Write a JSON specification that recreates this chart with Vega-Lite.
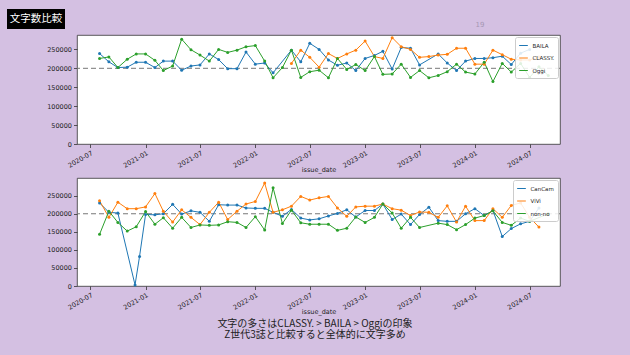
{
  "$schema": "https://vega.github.io/schema/vega-lite/v6.json",
  "background": "#d4c0e2",
  "padding": {"left": 7, "top": 9, "right": 10, "bottom": 25},
  "spacing": 3,
  "resolve": {"scale": {"color": "independent"}, "legend": {"color": "independent"}},
  "config": {
    "font": "DejaVu Sans",
    "view": {"stroke": "#333", "strokeWidth": 0.8, "fill": "white"},
    "axis": {"labelFont": "DejaVu Sans", "labelFontSize": 6.5, "labelColor": "#222", "titleFont": "DejaVu Sans", "titleFontSize": 6.5, "titleFontWeight": "normal", "titleColor": "#222", "tickSize": 3.5, "tickColor": "#333", "tickWidth": 0.8, "domain": false, "grid": false},
    "axisX": {"labelAngle": -30, "labelAlign": "right", "labelBaseline": "top", "labelPadding": 2, "titlePadding": -2, "labelOverlap": false, "labelFlush": false},
    "axisY": {"labelPadding": 2, "minExtent": 31, "maxExtent": 31},
    "legend": {"labelFont": "DejaVu Sans", "labelFontSize": 5.5, "labelColor": "#222", "fillColor": "rgba(255,255,255,0.85)", "strokeColor": "#ccc", "cornerRadius": 2, "padding": 3.5, "rowPadding": 3.5, "symbolType": "stroke", "symbolSize": 75, "symbolStrokeWidth": 1, "labelOffset": 4, "offset": 2}
  },
  "datasets": {
    "top": [
      {"magazine":"BAILA","issue_date":"2020-08-01","chars":239000},
      {"magazine":"BAILA","issue_date":"2020-09-01","chars":217000},
      {"magazine":"BAILA","issue_date":"2020-10-01","chars":202000},
      {"magazine":"BAILA","issue_date":"2020-11-01","chars":203000},
      {"magazine":"BAILA","issue_date":"2020-12-01","chars":216000},
      {"magazine":"BAILA","issue_date":"2021-01-01","chars":216000},
      {"magazine":"BAILA","issue_date":"2021-02-01","chars":202000},
      {"magazine":"BAILA","issue_date":"2021-03-01","chars":219000},
      {"magazine":"BAILA","issue_date":"2021-04-01","chars":219000},
      {"magazine":"BAILA","issue_date":"2021-05-01","chars":195000},
      {"magazine":"BAILA","issue_date":"2021-06-01","chars":206000},
      {"magazine":"BAILA","issue_date":"2021-07-01","chars":209000},
      {"magazine":"BAILA","issue_date":"2021-08-01","chars":238000},
      {"magazine":"BAILA","issue_date":"2021-09-01","chars":223000},
      {"magazine":"BAILA","issue_date":"2021-10-01","chars":199000},
      {"magazine":"BAILA","issue_date":"2021-11-01","chars":199000},
      {"magazine":"BAILA","issue_date":"2021-12-01","chars":243000},
      {"magazine":"BAILA","issue_date":"2022-01-01","chars":211000},
      {"magazine":"BAILA","issue_date":"2022-02-01","chars":214000},
      {"magazine":"BAILA","issue_date":"2022-03-01","chars":188000},
      {"magazine":"BAILA","issue_date":"2022-05-01","chars":248000},
      {"magazine":"BAILA","issue_date":"2022-06-01","chars":217000},
      {"magazine":"BAILA","issue_date":"2022-07-01","chars":266000},
      {"magazine":"BAILA","issue_date":"2022-08-01","chars":250000},
      {"magazine":"BAILA","issue_date":"2022-09-01","chars":222000},
      {"magazine":"BAILA","issue_date":"2022-10-01","chars":208000},
      {"magazine":"BAILA","issue_date":"2022-11-01","chars":214000},
      {"magazine":"BAILA","issue_date":"2022-12-01","chars":194000},
      {"magazine":"BAILA","issue_date":"2023-01-01","chars":226000},
      {"magazine":"BAILA","issue_date":"2023-02-01","chars":234000},
      {"magazine":"BAILA","issue_date":"2023-03-01","chars":245000},
      {"magazine":"BAILA","issue_date":"2023-04-01","chars":198000},
      {"magazine":"BAILA","issue_date":"2023-05-01","chars":255000},
      {"magazine":"BAILA","issue_date":"2023-06-01","chars":253000},
      {"magazine":"BAILA","issue_date":"2023-07-01","chars":209000},
      {"magazine":"BAILA","issue_date":"2023-09-01","chars":238000},
      {"magazine":"BAILA","issue_date":"2023-10-01","chars":214000},
      {"magazine":"BAILA","issue_date":"2023-11-01","chars":194000},
      {"magazine":"BAILA","issue_date":"2023-12-01","chars":219000},
      {"magazine":"BAILA","issue_date":"2024-01-01","chars":226000},
      {"magazine":"BAILA","issue_date":"2024-02-01","chars":226000},
      {"magazine":"BAILA","issue_date":"2024-03-01","chars":228000},
      {"magazine":"BAILA","issue_date":"2024-04-01","chars":232000},
      {"magazine":"BAILA","issue_date":"2024-05-01","chars":210000},
      {"magazine":"BAILA","issue_date":"2024-06-01","chars":240000},
      {"magazine":"BAILA","issue_date":"2024-07-01","chars":250000},
      {"magazine":"CLASSY.","issue_date":"2022-05-01","chars":213000},
      {"magazine":"CLASSY.","issue_date":"2022-06-01","chars":248000},
      {"magazine":"CLASSY.","issue_date":"2022-07-01","chars":229000},
      {"magazine":"CLASSY.","issue_date":"2022-08-01","chars":203000},
      {"magazine":"CLASSY.","issue_date":"2022-09-01","chars":239000},
      {"magazine":"CLASSY.","issue_date":"2022-10-01","chars":226000},
      {"magazine":"CLASSY.","issue_date":"2022-11-01","chars":238000},
      {"magazine":"CLASSY.","issue_date":"2022-12-01","chars":248000},
      {"magazine":"CLASSY.","issue_date":"2023-01-01","chars":272000},
      {"magazine":"CLASSY.","issue_date":"2023-02-01","chars":231000},
      {"magazine":"CLASSY.","issue_date":"2023-03-01","chars":226000},
      {"magazine":"CLASSY.","issue_date":"2023-04-01","chars":281000},
      {"magazine":"CLASSY.","issue_date":"2023-05-01","chars":257000},
      {"magazine":"CLASSY.","issue_date":"2023-06-01","chars":250000},
      {"magazine":"CLASSY.","issue_date":"2023-07-01","chars":229000},
      {"magazine":"CLASSY.","issue_date":"2023-08-01","chars":231000},
      {"magazine":"CLASSY.","issue_date":"2023-09-01","chars":235000},
      {"magazine":"CLASSY.","issue_date":"2023-10-01","chars":237000},
      {"magazine":"CLASSY.","issue_date":"2023-11-01","chars":253000},
      {"magazine":"CLASSY.","issue_date":"2023-12-01","chars":253000},
      {"magazine":"CLASSY.","issue_date":"2024-01-01","chars":211000},
      {"magazine":"CLASSY.","issue_date":"2024-02-01","chars":211000},
      {"magazine":"CLASSY.","issue_date":"2024-03-01","chars":248000},
      {"magazine":"CLASSY.","issue_date":"2024-04-01","chars":236000},
      {"magazine":"CLASSY.","issue_date":"2024-05-01","chars":224000},
      {"magazine":"CLASSY.","issue_date":"2024-06-01","chars":222000},
      {"magazine":"CLASSY.","issue_date":"2024-07-01","chars":222000},
      {"magazine":"CLASSY.","issue_date":"2024-08-01","chars":230000},
      {"magazine":"Oggi","issue_date":"2020-08-01","chars":226000},
      {"magazine":"Oggi","issue_date":"2020-09-01","chars":230000},
      {"magazine":"Oggi","issue_date":"2020-10-01","chars":202000},
      {"magazine":"Oggi","issue_date":"2020-11-01","chars":224000},
      {"magazine":"Oggi","issue_date":"2020-12-01","chars":238000},
      {"magazine":"Oggi","issue_date":"2021-01-01","chars":238000},
      {"magazine":"Oggi","issue_date":"2021-02-01","chars":221000},
      {"magazine":"Oggi","issue_date":"2021-03-01","chars":194000},
      {"magazine":"Oggi","issue_date":"2021-04-01","chars":206000},
      {"magazine":"Oggi","issue_date":"2021-05-01","chars":277000},
      {"magazine":"Oggi","issue_date":"2021-06-01","chars":249000},
      {"magazine":"Oggi","issue_date":"2021-07-01","chars":235000},
      {"magazine":"Oggi","issue_date":"2021-08-01","chars":219000},
      {"magazine":"Oggi","issue_date":"2021-09-01","chars":250000},
      {"magazine":"Oggi","issue_date":"2021-10-01","chars":242000},
      {"magazine":"Oggi","issue_date":"2021-11-01","chars":248000},
      {"magazine":"Oggi","issue_date":"2021-12-01","chars":257000},
      {"magazine":"Oggi","issue_date":"2022-01-01","chars":260000},
      {"magazine":"Oggi","issue_date":"2022-02-01","chars":219000},
      {"magazine":"Oggi","issue_date":"2022-03-01","chars":175000},
      {"magazine":"Oggi","issue_date":"2022-04-01","chars":202000},
      {"magazine":"Oggi","issue_date":"2022-05-01","chars":248000},
      {"magazine":"Oggi","issue_date":"2022-06-01","chars":176000},
      {"magazine":"Oggi","issue_date":"2022-07-01","chars":191000},
      {"magazine":"Oggi","issue_date":"2022-08-01","chars":195000},
      {"magazine":"Oggi","issue_date":"2022-09-01","chars":175000},
      {"magazine":"Oggi","issue_date":"2022-10-01","chars":226000},
      {"magazine":"Oggi","issue_date":"2022-11-01","chars":197000},
      {"magazine":"Oggi","issue_date":"2022-12-01","chars":210000},
      {"magazine":"Oggi","issue_date":"2023-01-01","chars":194000},
      {"magazine":"Oggi","issue_date":"2023-02-01","chars":231000},
      {"magazine":"Oggi","issue_date":"2023-03-01","chars":184000},
      {"magazine":"Oggi","issue_date":"2023-04-01","chars":185000},
      {"magazine":"Oggi","issue_date":"2023-05-01","chars":211000},
      {"magazine":"Oggi","issue_date":"2023-06-01","chars":176000},
      {"magazine":"Oggi","issue_date":"2023-07-01","chars":194000},
      {"magazine":"Oggi","issue_date":"2023-08-01","chars":175000},
      {"magazine":"Oggi","issue_date":"2023-09-01","chars":181000},
      {"magazine":"Oggi","issue_date":"2023-10-01","chars":191000},
      {"magazine":"Oggi","issue_date":"2023-11-01","chars":211000},
      {"magazine":"Oggi","issue_date":"2023-12-01","chars":190000},
      {"magazine":"Oggi","issue_date":"2024-01-01","chars":185000},
      {"magazine":"Oggi","issue_date":"2024-02-01","chars":216000},
      {"magazine":"Oggi","issue_date":"2024-03-01","chars":165000},
      {"magazine":"Oggi","issue_date":"2024-04-01","chars":213000},
      {"magazine":"Oggi","issue_date":"2024-05-01","chars":190000},
      {"magazine":"Oggi","issue_date":"2024-06-01","chars":213000},
      {"magazine":"Oggi","issue_date":"2024-07-01","chars":176000},
      {"magazine":"Oggi","issue_date":"2024-08-01","chars":204000},
      {"magazine":"Oggi","issue_date":"2024-09-01","chars":181000}
    ],
    "bottom": [
      {"magazine":"CanCam","issue_date":"2020-08-01","chars":230000},
      {"magazine":"CanCam","issue_date":"2020-09-01","chars":204000},
      {"magazine":"CanCam","issue_date":"2020-10-01","chars":202000},
      {"magazine":"CanCam","issue_date":"2020-11-27","chars":3000},
      {"magazine":"CanCam","issue_date":"2020-12-12","chars":82000},
      {"magazine":"CanCam","issue_date":"2021-01-01","chars":198000},
      {"magazine":"CanCam","issue_date":"2021-02-01","chars":197000},
      {"magazine":"CanCam","issue_date":"2021-03-01","chars":200000},
      {"magazine":"CanCam","issue_date":"2021-04-01","chars":226000},
      {"magazine":"CanCam","issue_date":"2021-05-01","chars":199000},
      {"magazine":"CanCam","issue_date":"2021-06-01","chars":208000},
      {"magazine":"CanCam","issue_date":"2021-07-01","chars":204000},
      {"magazine":"CanCam","issue_date":"2021-08-01","chars":179000},
      {"magazine":"CanCam","issue_date":"2021-09-01","chars":225000},
      {"magazine":"CanCam","issue_date":"2021-10-01","chars":224000},
      {"magazine":"CanCam","issue_date":"2021-11-01","chars":224000},
      {"magazine":"CanCam","issue_date":"2021-12-01","chars":216000},
      {"magazine":"CanCam","issue_date":"2022-01-01","chars":215000},
      {"magazine":"CanCam","issue_date":"2022-02-01","chars":215000},
      {"magazine":"CanCam","issue_date":"2022-03-01","chars":204000},
      {"magazine":"CanCam","issue_date":"2022-04-01","chars":193000},
      {"magazine":"CanCam","issue_date":"2022-05-01","chars":212000},
      {"magazine":"CanCam","issue_date":"2022-06-01","chars":188000},
      {"magazine":"CanCam","issue_date":"2022-07-01","chars":183000},
      {"magazine":"CanCam","issue_date":"2022-08-01","chars":186000},
      {"magazine":"CanCam","issue_date":"2022-09-01","chars":194000},
      {"magazine":"CanCam","issue_date":"2022-10-01","chars":201000},
      {"magazine":"CanCam","issue_date":"2022-11-01","chars":211000},
      {"magazine":"CanCam","issue_date":"2022-12-01","chars":191000},
      {"magazine":"CanCam","issue_date":"2023-01-01","chars":209000},
      {"magazine":"CanCam","issue_date":"2023-02-01","chars":209000},
      {"magazine":"CanCam","issue_date":"2023-03-01","chars":227000},
      {"magazine":"CanCam","issue_date":"2023-04-01","chars":184000},
      {"magazine":"CanCam","issue_date":"2023-05-01","chars":199000},
      {"magazine":"CanCam","issue_date":"2023-06-01","chars":170000},
      {"magazine":"CanCam","issue_date":"2023-07-01","chars":198000},
      {"magazine":"CanCam","issue_date":"2023-08-01","chars":218000},
      {"magazine":"CanCam","issue_date":"2023-09-01","chars":181000},
      {"magazine":"CanCam","issue_date":"2023-10-01","chars":179000},
      {"magazine":"CanCam","issue_date":"2023-11-01","chars":179000},
      {"magazine":"CanCam","issue_date":"2023-12-01","chars":200000},
      {"magazine":"CanCam","issue_date":"2024-01-01","chars":214000},
      {"magazine":"CanCam","issue_date":"2024-02-01","chars":195000},
      {"magazine":"CanCam","issue_date":"2024-03-01","chars":209000},
      {"magazine":"CanCam","issue_date":"2024-04-01","chars":137000},
      {"magazine":"CanCam","issue_date":"2024-05-01","chars":159000},
      {"magazine":"CanCam","issue_date":"2024-06-01","chars":172000},
      {"magazine":"CanCam","issue_date":"2024-07-01","chars":179000},
      {"magazine":"CanCam","issue_date":"2024-08-01","chars":216000},
      {"magazine":"ViVi","issue_date":"2020-08-01","chars":236000},
      {"magazine":"ViVi","issue_date":"2020-09-01","chars":190000},
      {"magazine":"ViVi","issue_date":"2020-10-01","chars":232000},
      {"magazine":"ViVi","issue_date":"2020-11-01","chars":214000},
      {"magazine":"ViVi","issue_date":"2020-12-01","chars":214000},
      {"magazine":"ViVi","issue_date":"2021-01-01","chars":219000},
      {"magazine":"ViVi","issue_date":"2021-02-01","chars":256000},
      {"magazine":"ViVi","issue_date":"2021-03-01","chars":207000},
      {"magazine":"ViVi","issue_date":"2021-04-01","chars":177000},
      {"magazine":"ViVi","issue_date":"2021-05-01","chars":211000},
      {"magazine":"ViVi","issue_date":"2021-06-01","chars":190000},
      {"magazine":"ViVi","issue_date":"2021-07-01","chars":170000},
      {"magazine":"ViVi","issue_date":"2021-08-01","chars":204000},
      {"magazine":"ViVi","issue_date":"2021-09-01","chars":232000},
      {"magazine":"ViVi","issue_date":"2021-10-01","chars":184000},
      {"magazine":"ViVi","issue_date":"2021-11-01","chars":207000},
      {"magazine":"ViVi","issue_date":"2021-12-01","chars":227000},
      {"magazine":"ViVi","issue_date":"2022-01-01","chars":234000},
      {"magazine":"ViVi","issue_date":"2022-02-01","chars":285000},
      {"magazine":"ViVi","issue_date":"2022-03-01","chars":204000},
      {"magazine":"ViVi","issue_date":"2022-04-01","chars":211000},
      {"magazine":"ViVi","issue_date":"2022-05-01","chars":221000},
      {"magazine":"ViVi","issue_date":"2022-06-01","chars":248000},
      {"magazine":"ViVi","issue_date":"2022-07-01","chars":238000},
      {"magazine":"ViVi","issue_date":"2022-08-01","chars":244000},
      {"magazine":"ViVi","issue_date":"2022-09-01","chars":248000},
      {"magazine":"ViVi","issue_date":"2022-10-01","chars":216000},
      {"magazine":"ViVi","issue_date":"2022-11-01","chars":193000},
      {"magazine":"ViVi","issue_date":"2022-12-01","chars":219000},
      {"magazine":"ViVi","issue_date":"2023-01-01","chars":221000},
      {"magazine":"ViVi","issue_date":"2023-02-01","chars":221000},
      {"magazine":"ViVi","issue_date":"2023-03-01","chars":227000},
      {"magazine":"ViVi","issue_date":"2023-04-01","chars":214000},
      {"magazine":"ViVi","issue_date":"2023-05-01","chars":210000},
      {"magazine":"ViVi","issue_date":"2023-06-01","chars":195000},
      {"magazine":"ViVi","issue_date":"2023-07-01","chars":205000},
      {"magazine":"ViVi","issue_date":"2023-08-01","chars":204000},
      {"magazine":"ViVi","issue_date":"2023-09-01","chars":190000},
      {"magazine":"ViVi","issue_date":"2023-10-01","chars":222000},
      {"magazine":"ViVi","issue_date":"2023-11-01","chars":177000},
      {"magazine":"ViVi","issue_date":"2023-12-01","chars":221000},
      {"magazine":"ViVi","issue_date":"2024-01-01","chars":181000},
      {"magazine":"ViVi","issue_date":"2024-02-01","chars":181000},
      {"magazine":"ViVi","issue_date":"2024-03-01","chars":214000},
      {"magazine":"ViVi","issue_date":"2024-04-01","chars":190000},
      {"magazine":"ViVi","issue_date":"2024-05-01","chars":223000},
      {"magazine":"ViVi","issue_date":"2024-06-01","chars":230000},
      {"magazine":"ViVi","issue_date":"2024-07-01","chars":190000},
      {"magazine":"ViVi","issue_date":"2024-08-01","chars":163000},
      {"magazine":"non-no","issue_date":"2020-08-01","chars":143000},
      {"magazine":"non-no","issue_date":"2020-09-01","chars":207000},
      {"magazine":"non-no","issue_date":"2020-10-01","chars":176000},
      {"magazine":"non-no","issue_date":"2020-11-01","chars":152000},
      {"magazine":"non-no","issue_date":"2020-12-01","chars":164000},
      {"magazine":"non-no","issue_date":"2021-01-01","chars":206000},
      {"magazine":"non-no","issue_date":"2021-02-01","chars":171000},
      {"magazine":"non-no","issue_date":"2021-03-01","chars":189000},
      {"magazine":"non-no","issue_date":"2021-04-01","chars":160000},
      {"magazine":"non-no","issue_date":"2021-05-01","chars":190000},
      {"magazine":"non-no","issue_date":"2021-06-01","chars":162000},
      {"magazine":"non-no","issue_date":"2021-07-01","chars":169000},
      {"magazine":"non-no","issue_date":"2021-08-01","chars":168000},
      {"magazine":"non-no","issue_date":"2021-09-01","chars":169000},
      {"magazine":"non-no","issue_date":"2021-10-01","chars":178000},
      {"magazine":"non-no","issue_date":"2021-11-01","chars":176000},
      {"magazine":"non-no","issue_date":"2021-12-01","chars":162000},
      {"magazine":"non-no","issue_date":"2022-01-01","chars":192000},
      {"magazine":"non-no","issue_date":"2022-02-01","chars":155000},
      {"magazine":"non-no","issue_date":"2022-03-01","chars":272000},
      {"magazine":"non-no","issue_date":"2022-04-01","chars":173000},
      {"magazine":"non-no","issue_date":"2022-05-01","chars":210000},
      {"magazine":"non-no","issue_date":"2022-06-01","chars":175000},
      {"magazine":"non-no","issue_date":"2022-07-01","chars":171000},
      {"magazine":"non-no","issue_date":"2022-08-01","chars":171000},
      {"magazine":"non-no","issue_date":"2022-09-01","chars":171000},
      {"magazine":"non-no","issue_date":"2022-10-01","chars":154000},
      {"magazine":"non-no","issue_date":"2022-11-01","chars":160000},
      {"magazine":"non-no","issue_date":"2022-12-01","chars":191000},
      {"magazine":"non-no","issue_date":"2023-01-01","chars":176000},
      {"magazine":"non-no","issue_date":"2023-02-01","chars":190000},
      {"magazine":"non-no","issue_date":"2023-03-01","chars":227000},
      {"magazine":"non-no","issue_date":"2023-04-01","chars":202000},
      {"magazine":"non-no","issue_date":"2023-05-01","chars":160000},
      {"magazine":"non-no","issue_date":"2023-06-01","chars":190000},
      {"magazine":"non-no","issue_date":"2023-07-01","chars":162000},
      {"magazine":"non-no","issue_date":"2023-09-01","chars":174000},
      {"magazine":"non-no","issue_date":"2023-10-01","chars":170000},
      {"magazine":"non-no","issue_date":"2023-11-01","chars":156000},
      {"magazine":"non-no","issue_date":"2023-12-01","chars":170000},
      {"magazine":"non-no","issue_date":"2024-01-01","chars":188000},
      {"magazine":"non-no","issue_date":"2024-02-01","chars":195000},
      {"magazine":"non-no","issue_date":"2024-03-01","chars":208000},
      {"magazine":"non-no","issue_date":"2024-04-01","chars":176000},
      {"magazine":"non-no","issue_date":"2024-05-01","chars":168000},
      {"magazine":"non-no","issue_date":"2024-06-01","chars":188000},
      {"magazine":"non-no","issue_date":"2024-07-01","chars":179000},
      {"magazine":"non-no","issue_date":"2024-09-01","chars":200000}
    ]
  },
  "vconcat": [
    {
      "hconcat": [
        {
          "width": 58, "height": 20,
          "view": {"fill": "black", "stroke": null},
          "data": {"values": [{"t": "文字数比較"}]},
          "mark": {"type": "text", "color": "white", "font": "Noto Sans CJK JP", "fontSize": 10.5},
          "encoding": {"text": {"field": "t"}}
        },
        {
          "width": 20, "height": 22,
          "view": {"fill": null, "stroke": null},
          "data": {"values": [{"t": "19"}]},
          "mark": {"type": "text", "color": "#a596b3", "fontSize": 7, "dy": 5},
          "encoding": {"text": {"field": "t"}}
        }
      ],
      "spacing": 405
    },
    {
      "resolve": {"scale": {"color": "independent"}, "legend": {"color": "independent"}},
      "hconcat": [
        {
          "width": 1, "height": 20,
          "view": {"fill": null, "stroke": null},
          "data": {"values": [{"t": ""}]},
          "mark": "text",
          "encoding": {"text": {"field": "t"}}
        },
        {
          "width": 483, "height": 109,
          "layer": [
            {
              "data": {"values": [{"ref": 200000}]},
              "mark": {"type": "rule", "color": "#777", "strokeDash": [5, 3], "strokeWidth": 1},
              "encoding": {
                "y": {"field": "ref", "type": "quantitative", "scale": {"domain": [0, 288000], "nice": false, "zero": false}, "axis": {"values": [0, 50000, 100000, 150000, 200000, 250000], "format": "d", "title": null}}
              }
            },
            {
              "data": {"name": "top"},
              "mark": {"type": "line", "strokeWidth": 1, "point": {"filled": true, "size": 9}},
              "encoding": {
                "x": {"field": "issue_date", "type": "temporal", "title": "issue_date",
                  "scale": {"type": "utc", "domain": [{"year": 2020, "month": 5, "date": 18, "utc": true}, {"year": 2024, "month": 10, "date": 10, "utc": true}]},
                  "axis": {"format": "%Y-%m", "tickCount": {"interval": "month", "step": 6}}},
                "y": {"field": "chars", "type": "quantitative", "scale": {"domain": [0, 288000], "nice": false, "zero": false}, "axis": {"values": [0, 50000, 100000, 150000, 200000, 250000], "format": "d", "title": null}},
                "color": {"field": "magazine", "type": "nominal", "scale": {"domain": ["BAILA", "CLASSY.", "Oggi"], "range": ["#1f77b4", "#ff7f0e", "#2ca02c"]}, "legend": {"title": null, "orient": "top-right"}}
              }
            }
          ]
        }
      ],
      "spacing": 37
    },
    {
      "resolve": {"scale": {"color": "independent"}, "legend": {"color": "independent"}},
      "hconcat": [
        {
          "width": 1, "height": 20,
          "view": {"fill": null, "stroke": null},
          "data": {"values": [{"t": ""}]},
          "mark": "text",
          "encoding": {"text": {"field": "t"}}
        },
        {
          "width": 483, "height": 108,
          "layer": [
            {
              "data": {"values": [{"ref": 200000}]},
              "mark": {"type": "rule", "color": "#777", "strokeDash": [5, 3], "strokeWidth": 1},
              "encoding": {
                "y": {"field": "ref", "type": "quantitative", "scale": {"domain": [0, 299000], "nice": false, "zero": false}, "axis": {"values": [0, 50000, 100000, 150000, 200000, 250000], "format": "d", "title": null}}
              }
            },
            {
              "data": {"name": "bottom"},
              "mark": {"type": "line", "strokeWidth": 1, "point": {"filled": true, "size": 9}},
              "encoding": {
                "x": {"field": "issue_date", "type": "temporal", "title": "issue_date",
                  "scale": {"type": "utc", "domain": [{"year": 2020, "month": 5, "date": 18, "utc": true}, {"year": 2024, "month": 10, "date": 10, "utc": true}]},
                  "axis": {"format": "%Y-%m", "tickCount": {"interval": "month", "step": 6}}},
                "y": {"field": "chars", "type": "quantitative", "scale": {"domain": [0, 299000], "nice": false, "zero": false}, "axis": {"values": [0, 50000, 100000, 150000, 200000, 250000], "format": "d", "title": null}},
                "color": {"field": "magazine", "type": "nominal", "scale": {"domain": ["CanCam", "ViVi", "non-no"], "range": ["#1f77b4", "#ff7f0e", "#2ca02c"]}, "legend": {"title": null, "orient": "top-right"}}
              }
            }
          ]
        }
      ],
      "spacing": 37
    },
    {
      "width": 616, "height": 6,
      "view": {"fill": null, "stroke": null},
      "data": {"values": [{"t": "文字の多さはCLASSY. > BAILA > Oggiの印象\nZ世代3誌と比較すると全体的に文字多め"}]},
      "mark": {"type": "text", "font": "Noto Sans CJK JP", "fontSize": 10, "lineHeight": 10.5, "lineBreak": "\n", "color": "#222", "baseline": "middle"},
      "encoding": {"text": {"field": "t"}}
    }
  ]
}
